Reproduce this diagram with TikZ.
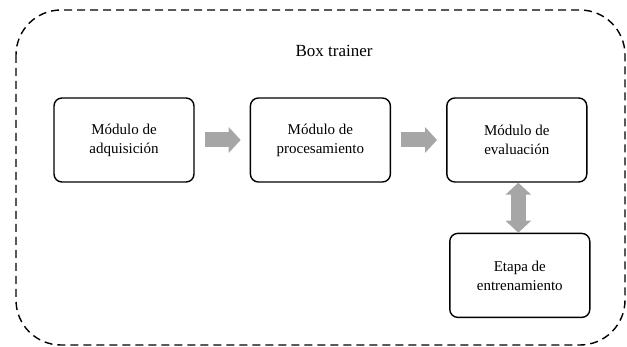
\documentclass[tikz,border=0pt]{standalone}
\usepackage{fontspec}
\setmainfont{Liberation Serif}
\usepackage{tikz}
\usetikzlibrary{arrows.meta,positioning}
\definecolor{Ink}{HTML}{000000}
\definecolor{Fill}{HTML}{A6A6A6}
\tikzset{
  modbox/.style={draw=Ink,line width=1.4pt,rounded corners=8pt,minimum width=140pt,minimum height=84pt,align=center,fill=white,text=Ink,font=\fontsize{15}{19}\selectfont},
  frame/.style={draw=Ink,line width=1.4pt,dash pattern=on 8pt off 5pt,rounded corners=45pt},
  blockArrow/.style={-{Triangle[width=25pt,length=12pt]},line width=15pt,draw=Fill},
  dblArrow/.style={{Triangle[width=25pt,length=12pt]}-{Triangle[width=25pt,length=12pt]},line width=15pt,draw=Fill}
}
\begin{document}
\begin{tikzpicture}[x=1pt,y=-1pt,node distance=55pt]
\useasboundingbox (0,0) rectangle (627,347);
\draw[frame] (16,10) rectangle (625,345);
\node[font=\fontsize{17}{20}\selectfont] (title) at (334,51) {Box trainer};
\node[modbox] (adq) at (124,140) {Módulo de\\adquisición};
\node[modbox,right=of adq] (proc) {Módulo de\\procesamiento};
\node[modbox,right=of proc] (eval) {Módulo de\\evaluación};
\node[modbox,below=50pt of eval,xshift=3pt] (etapa) {Etapa de\\entrenamiento};
\draw[blockArrow,shorten <=10pt,shorten >=9pt] (adq)--(proc);\draw[blockArrow,shorten <=10pt,shorten >=9pt] (proc)--(eval);
\coordinate (ea) at ([xshift=1.5pt]eval.south);
\coordinate (eb) at (etapa.north-|ea);
\draw[dblArrow] (ea)--(eb);
\end{tikzpicture}
\end{document}
